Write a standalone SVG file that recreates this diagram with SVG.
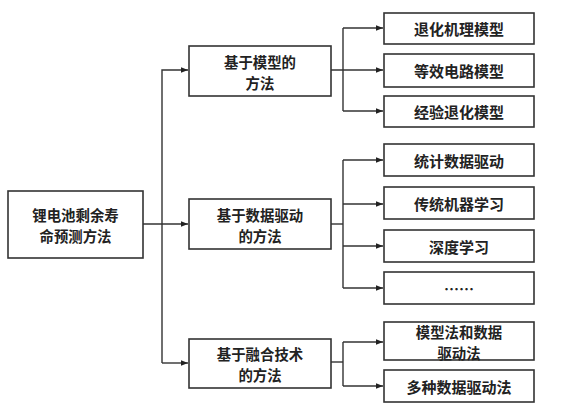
<svg xmlns="http://www.w3.org/2000/svg" width="564" height="413" viewBox="0 0 564 413">
<defs>
<style>
.box{fill:#fff;stroke:#333;stroke-width:1.6}
.t{font-family:"Noto Sans CJK SC","Noto Sans CJK JP",sans-serif;font-size:15px;font-weight:bold;fill:#222;text-anchor:middle;dominant-baseline:central}
.m{font-size:14.4px}
.c{fill:none;stroke:#333;stroke-width:1.4}
</style>
<marker id="a" viewBox="0 0 10 10" refX="10" refY="5" markerWidth="7" markerHeight="7" markerUnits="userSpaceOnUse" orient="auto">
<path d="M0,1 L10,5 L0,9 Z" fill="#222"/>
</marker>
</defs>
<rect width="564" height="413" fill="#fff"/>
<g id="connectors">
<path class="c" d="M143,224 H188" marker-end="url(#a)"/>
<path class="c" d="M162,363 V70 H188" marker-end="url(#a)"/>
<path class="c" d="M162,363 H188" marker-end="url(#a)"/>
<path class="c" d="M331,70 H383" marker-end="url(#a)"/>
<path class="c" d="M343,28 V111" />
<path class="c" d="M343,28 H383" marker-end="url(#a)"/>
<path class="c" d="M343,111 H383" marker-end="url(#a)"/>
<path class="c" d="M331,224 H343"/>
<path class="c" d="M343,160 V288"/>
<path class="c" d="M343,160 H383" marker-end="url(#a)"/>
<path class="c" d="M343,204 H383" marker-end="url(#a)"/>
<path class="c" d="M343,246 H383" marker-end="url(#a)"/>
<path class="c" d="M343,288 H383" marker-end="url(#a)"/>
<path class="c" d="M331,362 H343"/>
<path class="c" d="M343,342 V386"/>
<path class="c" d="M343,342 H383" marker-end="url(#a)"/>
<path class="c" d="M343,386 H383" marker-end="url(#a)"/>
</g>
<g id="root"><rect class="box" x="8" y="191" width="135" height="67"/><text class="t m"><tspan x="75.5" y="214">锂电池剩余寿</tspan><tspan x="75.5" y="235">命预测方法</tspan></text></g>
<g id="m1"><rect class="box" x="189" y="46" width="142" height="50"/><text class="t m"><tspan x="260" y="60.5">基于模型的</tspan><tspan x="260" y="81.5">方法</tspan></text></g>
<g id="m2"><rect class="box" x="189" y="199" width="142" height="50"/><text class="t m"><tspan x="260" y="213.5">基于数据驱动</tspan><tspan x="260" y="234.5">的方法</tspan></text></g>
<g id="m3"><rect class="box" x="189" y="339" width="142" height="49"/><text class="t m"><tspan x="260" y="353">基于融合技术</tspan><tspan x="260" y="374">的方法</tspan></text></g>
<g id="l1"><rect class="box" x="384" y="13" width="150" height="31"/><text class="t" x="459" y="28.5">退化机理模型</text></g>
<g id="l2"><rect class="box" x="384" y="54" width="150" height="33"/><text class="t" x="459" y="70.5">等效电路模型</text></g>
<g id="l3"><rect class="box" x="384" y="96" width="150" height="31"/><text class="t" x="459" y="111.5">经验退化模型</text></g>
<g id="l4"><rect class="box" x="384" y="144" width="150" height="32"/><text class="t" x="459" y="160">统计数据驱动</text></g>
<g id="l5"><rect class="box" x="384" y="187" width="150" height="32"/><text class="t" x="459" y="203">传统机器学习</text></g>
<g id="l6"><rect class="box" x="384" y="230" width="150" height="32"/><text class="t" x="459" y="246">深度学习</text></g>
<g id="l7"><rect class="box" x="384" y="272" width="150" height="32"/><text class="t" x="459" y="288">……</text></g>
<g id="l8"><rect class="box" x="384" y="322" width="150" height="38"/><text class="t m"><tspan x="459" y="330.5">模型法和数据</tspan><tspan x="459" y="351.5">驱动法</tspan></text></g>
<g id="l9"><rect class="box" x="384" y="370" width="150" height="32"/><text class="t" x="459" y="386">多种数据驱动法</text></g>
</svg>
